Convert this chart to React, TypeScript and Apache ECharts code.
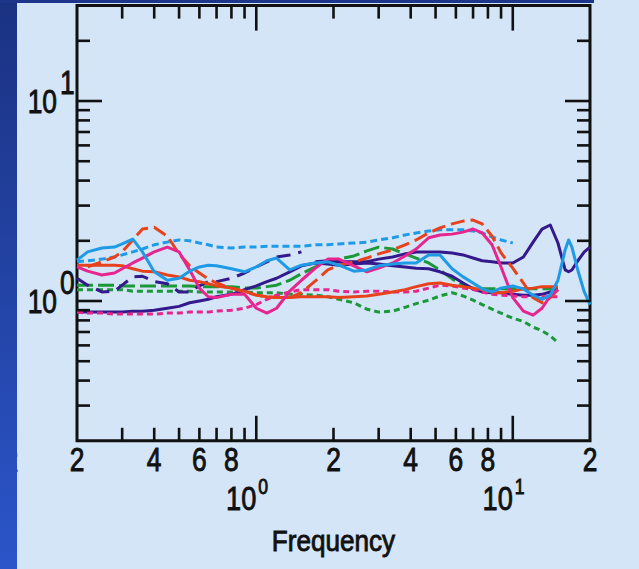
import React, { useEffect, useRef } from 'react';
import * as echarts from 'echarts';

const X_MIN = 0.2;
const X_MAX = 20;
const Y_MIN = 0.2;
const Y_MAX = 30;

const frequencies = [0.2, 0.22, 0.25, 0.28, 0.3, 0.33, 0.36, 0.4, 0.45, 0.5, 0.55, 0.6, 0.65, 0.7, 0.8, 0.9, 1.0, 1.1, 1.2, 1.35, 1.5, 1.7, 1.9, 2.1, 2.4, 2.7, 3.0, 3.4, 3.8, 4.2, 4.7, 5.2, 5.8, 6.4, 7.0, 7.6, 8.3, 9.0, 10, 11, 12, 13, 14, 15, 16, 16.5, 17, 18, 19, 20];

const cyanSolid = [1.6, 1.76, 1.84, 1.86, 1.93, 2.04, 1.76, 1.4, 1.27, 1.3, 1.41, 1.48, 1.51, 1.5, 1.45, 1.4, 1.48, 1.59, 1.64, 1.43, 1.51, 1.55, 1.57, 1.51, 1.41, 1.43, 1.5, 1.53, 1.55, 1.55, 1.7, 1.7, 1.45, 1.32, 1.23, 1.15, 1.11, 1.16, 1.19, 1.15, 1.07, 1.02, 1.07, 1.27, 1.8, 2.02, 1.86, 1.4, 1.11, 0.96];
const cyanDotted = [1.57, 1.59, 1.62, 1.66, 1.7, 1.76, 1.82, 1.91, 1.97, 2.02, 2.0, 1.95, 1.91, 1.86, 1.84, 1.86, 1.86, 1.88, 1.88, 1.88, 1.88, 1.91, 1.91, 1.93, 1.95, 1.97, 2.02, 2.07, 2.14, 2.19, 2.24, 2.27, 2.27, 2.27, 2.24, 2.19, 2.09, 2.02, 1.95, null, null, null, null, null, null, null, null, null, null, null];
const redSolid = [1.51, 1.51, 1.51, 1.51, 1.5, 1.45, 1.41, 1.4, 1.35, 1.32, 1.27, 1.25, 1.22, 1.19, 1.16, 1.12, 1.07, 1.05, 1.04, 1.04, 1.05, 1.05, 1.05, 1.04, 1.05, 1.06, 1.08, 1.11, 1.14, 1.18, 1.22, 1.23, 1.2, 1.18, 1.16, 1.14, 1.11, 1.1, 1.12, 1.15, 1.16, 1.18, 1.18, 1.18, null, null, null, null, null, null];
const redDashed = [null, 1.48, 1.57, 1.66, 1.76, 2.02, 2.29, 2.34, 2.11, 1.72, 1.5, 1.38, 1.29, 1.23, 1.16, 1.11, 1.07, 1.05, 1.04, 1.04, 1.1, 1.26, 1.43, 1.51, 1.57, 1.64, 1.72, 1.8, 1.91, 2.02, 2.19, 2.32, 2.43, 2.51, 2.54, 2.43, 2.11, 1.74, 1.46, 1.23, 1.04, 0.98, 1.04, 1.14, null, null, null, null, null, null];
const magentaSolid = [1.48, 1.41, 1.35, 1.38, 1.45, 1.55, 1.64, 1.76, 1.86, 1.76, 1.43, 1.16, 1.05, 1.04, 1.08, 1.08, 0.92, 0.87, 0.92, 1.12, 1.27, 1.46, 1.62, 1.62, 1.5, 1.4, 1.46, 1.55, 1.68, 1.82, 2.07, 2.14, 2.16, 2.21, 2.29, 2.19, 1.91, 1.48, 1.04, 0.89, 0.85, 0.92, 1.06, 1.14, null, null, null, null, null, null];
const magentaDotted = [0.88, 0.87, 0.87, 0.86, 0.86, 0.86, 0.86, 0.86, 0.87, 0.87, 0.88, 0.88, 0.88, 0.89, 0.9, 0.92, 0.96, 1.02, 1.07, 1.11, 1.14, 1.14, 1.14, 1.12, 1.11, 1.12, 1.12, 1.11, 1.11, 1.12, 1.16, 1.2, 1.19, 1.16, 1.14, 1.11, 1.08, 1.07, 1.06, 1.05, 1.05, 1.05, 1.05, 1.05, null, null, null, null, null, null];
const purpleSolidLow = [0.88, 0.88, 0.88, 0.88, 0.88, 0.89, 0.89, 0.9, 0.92, 0.94, 0.98, 1.0, 1.02, 1.05, 1.08, 1.14, 1.19, 1.25, 1.3, 1.4, 1.5, 1.55, 1.53, 1.51, 1.53, 1.55, 1.53, 1.5, 1.48, 1.46, 1.45, 1.4, 1.33, 1.23, 1.15, 1.11, 1.1, 1.1, 1.08, 1.07, 1.07, 1.08, 1.11, 1.14, null, null, null, null, null, null];
const purpleDashed = [1.3, 1.2, 1.11, 1.12, 1.2, 1.32, 1.33, 1.25, 1.22, 1.11, 1.11, 1.19, 1.25, 1.25, 1.3, 1.38, 1.48, 1.57, 1.66, 1.7, 1.76, null, null, null, null, null, null, null, null, null, null, null, null, null, null, null, null, null, null, null, null, null, null, null, null, null, null, null, null, null];
const purpleSolidHigh = [null, null, null, null, null, null, null, null, null, null, null, null, null, null, null, null, null, null, null, null, null, 1.57, 1.59, 1.57, 1.57, 1.57, 1.62, 1.66, 1.72, 1.76, 1.76, 1.76, 1.74, 1.7, 1.64, 1.59, 1.57, 1.55, 1.55, 1.66, 1.97, 2.29, 2.4, 1.95, 1.43, 1.4, 1.43, 1.6, 1.76, 1.86];
const greenDashed = [1.2, 1.2, 1.2, 1.2, 1.19, 1.19, 1.19, 1.19, 1.19, 1.19, 1.19, 1.18, 1.18, 1.18, 1.18, 1.16, 1.16, 1.18, 1.2, 1.27, 1.37, 1.48, 1.57, 1.62, 1.68, 1.78, 1.86, 1.82, 1.72, 1.64, 1.55, 1.43, 1.29, 1.2, 1.16, 1.15, 1.15, 1.15, 1.15, 1.15, 1.15, 1.15, 1.15, 1.15, null, null, null, null, null, null];
const greenDotted = [1.14, 1.14, 1.14, 1.14, 1.14, 1.12, 1.12, 1.12, 1.12, 1.12, 1.12, 1.11, 1.11, 1.11, 1.11, 1.11, 1.1, 1.1, 1.1, 1.08, 1.08, 1.07, 1.05, 1.02, 0.98, 0.91, 0.88, 0.89, 0.93, 0.97, 1.01, 1.06, 1.1, 1.06, 1.01, 0.96, 0.91, 0.87, 0.82, 0.79, 0.74, 0.71, 0.67, 0.62, null, null, null, null, null, null];

const xMinorTicks = [0.3, 0.4, 0.5, 0.6, 0.7, 0.8, 0.9, 2, 3, 4, 5, 6, 7, 8, 9];
const xMajorTicks = [1, 10];
const yMinorTicks = [0.3, 0.4, 0.5, 0.6, 0.7, 0.8, 0.9, 2, 3, 4, 5, 6, 7, 8, 9, 20];
const yMajorTicks = [1, 10];
const xDigitValues = [0.2, 0.4, 0.6, 0.8, 2, 4, 6, 8, 20];
const xDigitTexts = ['2', '4', '6', '8', '2', '4', '6', '8', '2'];
const decadeValues = [1, 10];
const decadeExponents = ['0', '1'];
const xAxisTitle = 'Frequency';

const FONT = '"Liberation Sans", Arial, Helvetica, sans-serif';
const INK = '#111111';

const CYAN = '#1e9ae6';
const RED = '#e8421c';
const MAGENTA = '#e6268e';
const PURPLE = '#33198c';
const GREEN = '#1b9838';

function lineSeries(name: string, ys: (number | null)[], color: string, dash: number[] | 'solid') {
  return {
    type: 'line',
    name,
    data: frequencies.map((f, i) => [f, ys[i]]).filter((p) => p[1] != null),
    symbol: 'none',
    showSymbol: false,
    silent: true,
    z: 3,
    lineStyle: { color, width: 3, type: dash, cap: 'butt', join: 'round' },
    itemStyle: { color },
  };
}

function textEl(text: string, x: number, y: number, size: number, align: string, sx = 0.8) {
  return {
    type: 'text',
    x,
    y,
    scaleX: sx,
    style: {
      text,
      fill: INK,
      stroke: INK,
      lineWidth: 0.9,
      fontSize: size,
      fontFamily: FONT,
      align,
      verticalAlign: 'middle',
    },
  };
}

const tickStyle = { stroke: INK, lineWidth: 2.6 };

const option: any = {
  animation: false,
  backgroundColor: '#d3e5f7',
  grid: {
    left: 77,
    right: 49,
    top: 5.6,
    bottom: 128.2,
    show: true,
    borderColor: INK,
    borderWidth: 3,
    backgroundColor: 'transparent',
  },
  xAxis: {
    type: 'log',
    logBase: 10,
    min: X_MIN,
    max: X_MAX,
    axisLine: { show: false },
    axisTick: { show: false },
    axisLabel: { show: false },
    splitLine: { show: false },
  },
  yAxis: {
    type: 'log',
    logBase: 10,
    min: Y_MIN,
    max: Y_MAX,
    axisLine: { show: false },
    axisTick: { show: false },
    axisLabel: { show: false },
    splitLine: { show: false },
  },
  graphic: [
    {
      type: 'text',
      z: 1,
      style: { text: '2', x: 19, y: 460, fill: INK, fontSize: 33, fontFamily: FONT, align: 'right', verticalAlign: 'middle' },
    },
    {
      type: 'rect',
      z: 100,
      shape: { x: 0, y: 0, width: 17, height: 569 },
      style: {
        fill: {
          type: 'linear',
          x: 0,
          y: 0,
          x2: 0,
          y2: 1,
          colorStops: [
            { offset: 0, color: '#1b3282' },
            { offset: 1, color: '#2b55c9' },
          ],
        },
      },
    },
    {
      type: 'rect',
      z: 100,
      shape: { x: 0, y: 0, width: 594, height: 3 },
      style: { fill: '#1d358a' },
    },
  ],
  series: [
    lineSeries('green dotted', greenDotted, GREEN, [6, 4]),
    lineSeries('green dashed', greenDashed, GREEN, [16, 5]),
    lineSeries('purple low', purpleSolidLow, PURPLE, 'solid'),
    lineSeries('purple dashed', purpleDashed, PURPLE, [14, 8]),
    lineSeries('purple high', purpleSolidHigh, PURPLE, 'solid'),
    lineSeries('magenta dotted', magentaDotted, MAGENTA, [6, 4]),
    lineSeries('red solid', redSolid, RED, 'solid'),
    lineSeries('cyan dotted', cyanDotted, CYAN, [7, 4]),
    lineSeries('red dashed', redDashed, RED, [14, 6]),
    lineSeries('magenta solid', magentaSolid, MAGENTA, 'solid'),
    lineSeries('cyan solid', cyanSolid, CYAN, 'solid'),
    {
      type: 'custom',
      name: 'x ticks',
      coordinateSystem: 'cartesian2d',
      silent: true,
      z: 6,
      encode: { x: 0, y: 1 },
      data: [...xMinorTicks.map((v) => [v, 1, 0]), ...xMajorTicks.map((v) => [v, 1, 1])],
      renderItem: (params: any, api: any) => {
        const v = api.value(0);
        const len = api.value(2) ? 25 : 13;
        const b = api.coord([v, Y_MIN]);
        const t = api.coord([v, Y_MAX]);
        return {
          type: 'group',
          children: [
            { type: 'line', shape: { x1: b[0], y1: b[1], x2: b[0], y2: b[1] - len }, style: tickStyle },
            { type: 'line', shape: { x1: t[0], y1: t[1], x2: t[0], y2: t[1] + len }, style: tickStyle },
          ],
        };
      },
    },
    {
      type: 'custom',
      name: 'y ticks',
      coordinateSystem: 'cartesian2d',
      silent: true,
      z: 6,
      encode: { x: 0, y: 1 },
      data: [...yMinorTicks.map((v) => [1, v, 0]), ...yMajorTicks.map((v) => [1, v, 1])],
      renderItem: (params: any, api: any) => {
        const v = api.value(1);
        const len = api.value(2) ? 25 : 13;
        const l = api.coord([X_MIN, v]);
        const r = api.coord([X_MAX, v]);
        return {
          type: 'group',
          children: [
            { type: 'line', shape: { x1: l[0], y1: l[1], x2: l[0] + len, y2: l[1] }, style: tickStyle },
            { type: 'line', shape: { x1: r[0], y1: r[1], x2: r[0] - len, y2: r[1] }, style: tickStyle },
          ],
        };
      },
    },
    {
      type: 'custom',
      name: 'x digits',
      coordinateSystem: 'cartesian2d',
      silent: true,
      z: 6,
      encode: { x: 0, y: 1 },
      data: xDigitValues.map((v) => [v, 1]),
      renderItem: (params: any, api: any) => {
        const p = api.coord([api.value(0), Y_MIN]);
        return textEl(xDigitTexts[params.dataIndex], p[0], p[1] + 19, 33, 'center');
      },
    },
    {
      type: 'custom',
      name: 'decades',
      coordinateSystem: 'cartesian2d',
      silent: true,
      z: 6,
      encode: { x: 0, y: 1 },
      data: decadeValues.map((v) => [v, v]),
      renderItem: (params: any, api: any) => {
        const v = api.value(0);
        const exp = decadeExponents[params.dataIndex];
        const px = api.coord([v, Y_MIN]);
        const py = api.coord([X_MIN, v]);
        return {
          type: 'group',
          children: [
            textEl('10', px[0], px[1] + 58, 34, 'right'),
            textEl(exp, px[0] + 2, px[1] + 45, 22, 'left'),
            textEl('10', py[0] - 20, py[1], 33, 'right'),
            textEl(exp, py[0] - 17, py[1] - 19, 33, 'left'),
          ],
        };
      },
    },
    {
      type: 'custom',
      name: 'x title',
      coordinateSystem: 'cartesian2d',
      silent: true,
      z: 6,
      encode: { x: 0, y: 1 },
      data: [[Math.sqrt(X_MIN * X_MAX), 1]],
      renderItem: (params: any, api: any) => {
        const p = api.coord([api.value(0), Y_MIN]);
        return textEl(xAxisTitle, p[0], p[1] + 100, 30, 'center', 0.87);
      },
    },
  ],
};

export default function App() {
  const ref = useRef<HTMLDivElement>(null);
  useEffect(() => {
    const chart = echarts.init(ref.current as HTMLDivElement, null, { renderer: 'svg' });
    chart.setOption(option);
    return () => chart.dispose();
  }, []);
  return <div ref={ref} style={{ position: 'fixed', left: 0, top: 0, width: 639, height: 569 }} />;
}
